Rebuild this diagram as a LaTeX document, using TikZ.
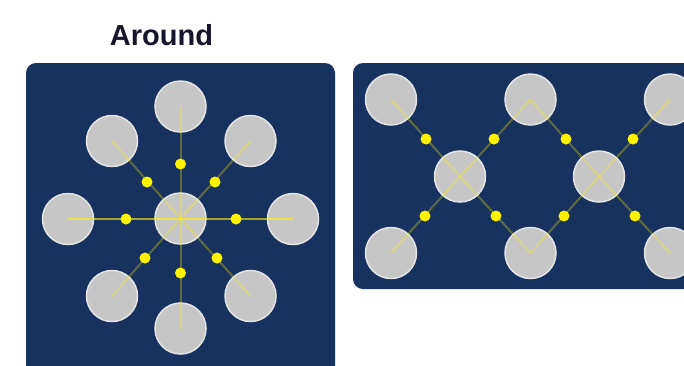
\documentclass[tikz,border=0pt]{standalone}
\usepackage{fontspec}
\setmainfont{Liberation Sans}
\usepackage{tikz}
\definecolor{panelblue}{HTML}{17325F}
\definecolor{ballgray}{HTML}{C6C6C6}
\definecolor{ballrim}{HTML}{E4E4E4}
\definecolor{titleink}{HTML}{16162A}
\tikzset{
    panel/.style={fill=panelblue, rounded corners=10pt},
    ball/.style={circle, fill=ballgray, draw=ballrim, line width=1.5pt, minimum size=51pt, inner sep=0pt},
    dot/.style={circle, fill=yellow, minimum size=11pt, inner sep=0pt},
    link/.style={draw=yellow, line width=2pt, draw opacity=0.3},
    brightlink/.style={link, draw opacity=0.6}
}

\begin{document}
\begin{tikzpicture}[x=1pt, y=-1pt]
\clip (0,0) rectangle (684,365);
\fill[white] (0,0) rectangle (684,365);
\node[font=\bfseries\fontsize{29}{30}\selectfont, text=titleink, anchor=base] (title) at (161.5,45) {Around};
\fill[panel] (26,63) rectangle (335,385);
\fill[panel] (353,63) rectangle (710,289);

\node[ball] (c) at (180.5,218.5) {};
\node[ball] (t) at (180.5,106.5) {};
\node[ball] (b) at (180.5,328.5) {};
\node[ball] (l) at (68,219) {};
\node[ball] (r) at (293,219) {};
\node[ball] (tl) at (112,141) {};
\node[ball] (tr) at (250.5,141) {};
\node[ball] (bl) at (112,296) {};
\node[ball] (br) at (250.5,296) {};
\draw[brightlink] (l.center) -- (r.center);
\draw[link] (t.center) -- (b.center);
\draw[link] (c.center) -- (tl.center);
\draw[link] (c.center) -- (tr.center);
\draw[link] (c.center) -- (bl.center);
\draw[link] (c.center) -- (br.center);
\node[dot] (dt) at (180.5,164) {};
\node[dot] (db) at (180.5,273) {};
\node[dot] (dl) at (126,219) {};
\node[dot] (dr) at (236,219) {};
\node[dot] (dtl) at (147,182) {};
\node[dot] (dtr) at (215,182) {};
\node[dot] (dbl) at (145,258) {};
\node[dot] (dbr) at (217,258) {};

\node[ball] (m1) at (460,176.5) {};
\node[ball] (m2) at (599,176.5) {};
\node[ball] (u1) at (391,99.5) {};
\node[ball] (u2) at (530.5,99.5) {};
\node[ball] (u3) at (670,99.5) {};
\node[ball] (w1) at (391,253) {};
\node[ball] (w2) at (530.5,253) {};
\node[ball] (w3) at (670,253) {};
\draw[link] (m1.center) -- (u1.center);
\draw[link] (m1.center) -- (u2.center);
\draw[link] (m1.center) -- (w1.center);
\draw[link] (m1.center) -- (w2.center);
\draw[link] (m2.center) -- (u2.center);
\draw[link] (m2.center) -- (u3.center);
\draw[link] (m2.center) -- (w2.center);
\draw[link] (m2.center) -- (w3.center);
\node[dot] (e1) at (426,139) {};
\node[dot] (e2) at (494,139) {};
\node[dot] (e3) at (566,139) {};
\node[dot] (e4) at (633,139) {};
\node[dot] (f1) at (425,216) {};
\node[dot] (f2) at (496,216) {};
\node[dot] (f3) at (564,216) {};
\node[dot] (f4) at (635,216) {};
\end{tikzpicture}
\end{document}
